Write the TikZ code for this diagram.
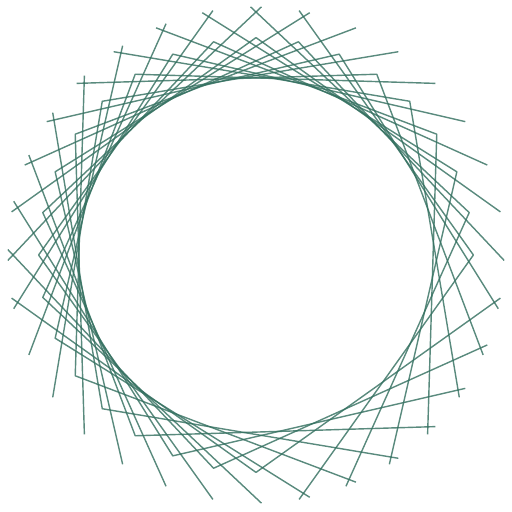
\documentclass[tikz,border=0pt]{standalone}
\definecolor{vline}{RGB}{52,112,96}
\tikzset{varm/.style={draw=vline, line width=0.8pt, line join=round, draw opacity=0.82}}
\begin{document}
\begin{tikzpicture}[x=0.02cm,y=0.02cm]
\useasboundingbox (0,0) rectangle (512,512);
\begin{scope}[shift={(256,257)}]
\pgfmathsetmacro{\rr}{177}
\pgfmathsetmacro{\hh}{35.5}
\pgfmathsetmacro{\bb}{44.5}
\pgfmathsetmacro{\Ra}{\rr/cos(\hh)}
\pgfmathsetmacro{\Rb}{\rr/cos(\bb)}
\pgfmathsetmacro{\DD}{\hh+\bb}
\foreach \k in {0,...,24}{
  \pgfmathsetmacro{\cc}{11.25*\k}
  \coordinate (c\k) at (\cc:\Ra);
  \coordinate (a\k) at (\cc+\DD:\Rb);
  \coordinate (b\k) at (\cc-\DD:\Rb);
  \draw[varm] (a\k) -- (c\k) -- (b\k);
}
\end{scope}
\end{tikzpicture}
\end{document}
